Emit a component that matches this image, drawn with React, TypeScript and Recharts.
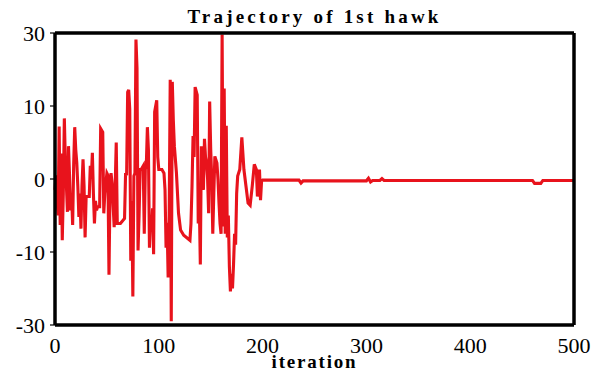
import React from 'react';
import { LineChart, Line, XAxis, YAxis } from 'recharts';

const iterations = [
  0, 1, 2, 3, 4, 5, 6, 7, 8, 9, 10, 11, 12, 13, 14, 15, 16, 17, 18, 19, 20, 21, 22, 23, 24, 25, 26, 27, 28, 29,
  30, 33, 34, 35, 36, 37, 38, 39, 40, 41, 43, 44, 46, 47, 48, 50, 51, 52, 53, 54, 55, 57, 59, 60, 63, 67, 68, 69,
  70, 71, 72, 73, 74, 75, 76, 77, 78, 79, 80, 81, 82, 83, 85, 86, 87, 88, 89, 90, 91, 92, 93, 94, 95, 96, 98, 99,
  100, 103, 105, 106, 107, 108, 109, 110, 111, 112, 113, 114, 115, 117, 119, 121, 124, 130, 131, 132, 133, 134,
  135, 137, 138, 139, 140, 141, 142, 143, 144, 145, 146, 147, 148, 149, 150, 151, 152, 153, 154, 156, 157, 158,
  159, 160, 161, 162, 163, 164, 165, 166, 167, 168, 169, 170, 171, 172, 173, 174, 175, 176, 178, 180, 181, 182,
  184, 186, 188, 190, 192, 194, 195, 196, 197, 198, 199, 200, 235, 237, 239, 300, 302, 304, 306, 313, 315, 317,
  460, 462, 468, 470, 500,
];

const positions = [
  -1.5, 0.5, -3, -5, 7.2, -6.3, 3.5, -8.4, -2, 8.3, 2.2, -1, -4.5, 4.5, 0.5, -4.3, -2, -6.3, 2, 7.1, 4, 2.2, -1, -5.2, -2, -6.8, -1, 2.7, -1, -8.0,
  -2.4, -2.4, 1.8, 0, 3.6, -2, -6.1, -3, -4.3, -3.8, -3.8, 6.9, 6.4, -4.7, -2, 0.8, 0.5, -13.1, -2, 0.8, -0.6, -6.6, 5.0, -6.1, -6.1, -5.4, 0.8, 0.5,
  11.9, 12.2, 9.6, -11.2, -3, -16.1, 0.4, 0.8, 19.1, 15.2, -9.8, -5, 1.3, 1.3, 1.8, -7.5, 1.3, 2, 7.1, 4, -9.4, -5, -7.0, -4, -10.3, 9.2, 10.8, 3,
  1.3, 1.3, 0.8, -1.5, -9.4, -6, -13.5, -5, 13.6, -19.5, 13.3, 8, 4.5, 0.8, -4.7, -7.0, -7.7, -8.4, -6.1, -1.0, 5.9, 3,
  12.6, 11.5, -6.1, -3, -11.7, 4.5, 1, -1.5, 5.5, 3, 2.2, 0, -4.7, 10.6, 4.1, 0, -7.5, -2, 3.1, 2.2, 0, -3.3,
  -6.1, -7.5, 19.8, -6.5, 12.4, -7.5, 7.3, -8.0, -5, -12, -15.4, -13, -15, -11.7, -7.5, -9, -2, 0.4, 1.3, 5.7, 3.5, 1.3,
  -1.0, -3.3, -3.6, -1.0, 2.0, 1.3, -2.4, -0.5, 1.3, -2.9, -0.3, -0.15, -0.15, -0.55, -0.25, -0.25, 0.1, -0.4, -0.2, -0.2, 0.05, -0.2,
  -0.2, -0.6, -0.6, -0.2, -0.2,
];

const xTicks = [0, 100, 200, 300, 400, 500];
const yTicks = [-20, -10, 0, 10, 20];
const yTickLabels = ['-30', '-10', '0', '10', '30'];

const chartTitle = 'Trajectory of 1st hawk';
const xLabel = 'iteration';

const data = iterations.map((it, k) => ({ iteration: it, value: positions[k] }));

const FONT = "'Liberation Serif', 'Times New Roman', serif";
const FRAME = { stroke: '#000', strokeWidth: 3.5 };
const PLOT_LEFT = 55;
const PLOT_RIGHT = 574;
const PLOT_CX = (PLOT_LEFT + PLOT_RIGHT) / 2;

const tickStyle: React.CSSProperties = { fontFamily: FONT, fontSize: 22, fontWeight: 'normal' };

const XTick = (props: any) => {
  const { x, y, payload } = props;
  return (
    <text x={x} y={y} dy="0.71em" textAnchor="middle" fill="#000" fontFamily="Liberation Serif" style={tickStyle}>
      {payload.value}
    </text>
  );
};

const YTick = (props: any) => {
  const { x, y, payload } = props;
  const idx = yTicks.indexOf(payload.value);
  return (
    <text x={x} y={y} dy="0.355em" textAnchor="end" fill="#000" fontFamily="Liberation Serif" style={tickStyle}>
      {idx >= 0 ? yTickLabels[idx] : payload.value}
    </text>
  );
};

const overlayText: React.CSSProperties = {
  position: 'absolute',
  left: 0,
  width: PLOT_CX * 2,
  textAlign: 'center',
  fontFamily: FONT,
  fontWeight: 'bold',
  fontSize: 19,
  lineHeight: '19px',
  color: '#000',
  whiteSpace: 'nowrap',
  pointerEvents: 'none',
};

export default function App() {
  return (
    <div style={{ position: 'absolute', left: 0, top: 0, width: 601, height: 380, background: '#fff' }}>
      <LineChart
        width={601}
        height={380}
        data={data}
        margin={{ top: 33, right: 601 - PLOT_RIGHT, bottom: 0, left: 0 }}
      >
        <XAxis
          xAxisId="main"
          dataKey="iteration"
          type="number"
          domain={[0, 500]}
          ticks={xTicks}
          height={55}
          tickLine={false}
          tickSize={0}
          tickMargin={12}
          axisLine={FRAME}
          tick={<XTick />}
        />
        <XAxis
          xAxisId="bottomTicks"
          dataKey="iteration"
          type="number"
          domain={[0, 500]}
          ticks={xTicks}
          orientation="bottom"
          mirror
          tick={false}
          tickSize={4}
          tickLine={{ stroke: '#000', strokeWidth: 1.2 }}
          axisLine={false}
        />
        <XAxis
          xAxisId="top"
          dataKey="iteration"
          type="number"
          domain={[0, 500]}
          ticks={xTicks}
          orientation="top"
          mirror
          tick={false}
          tickSize={4}
          tickLine={{ stroke: '#000', strokeWidth: 1.2 }}
          axisLine={FRAME}
        />
        <YAxis
          yAxisId="main"
          type="number"
          domain={[-20, 20]}
          ticks={yTicks}
          width={PLOT_LEFT}
          tickSize={5}
          tickMargin={5}
          tickLine={{ stroke: '#000', strokeWidth: 1.2 }}
          axisLine={FRAME}
          tick={<YTick />}
          allowDataOverflow
        />
        <YAxis
          yAxisId="right"
          type="number"
          domain={[-20, 20]}
          ticks={yTicks}
          orientation="right"
          mirror
          tick={false}
          tickLine={false}
          axisLine={FRAME}
        />
        <Line
          xAxisId="main"
          yAxisId="main"
          type="linear"
          dataKey="value"
          stroke="#e8131c"
          strokeWidth={3.1}
          dot={false}
          activeDot={false}
          isAnimationActive={false}
        />
      </LineChart>
      <div style={{ ...overlayText, top: 7, letterSpacing: '3.2px' }}>{chartTitle}</div>
      <div style={{ ...overlayText, top: 352, letterSpacing: '1.8px' }}>{xLabel}</div>
    </div>
  );
}
